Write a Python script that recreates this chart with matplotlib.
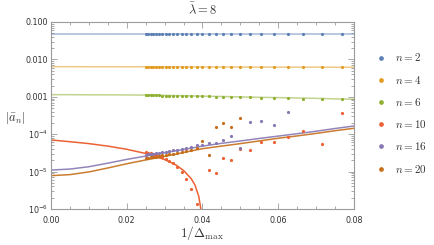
import numpy as np
import matplotlib
matplotlib.use("Agg")
import matplotlib.pyplot as plt
from matplotlib.ticker import FixedLocator, NullFormatter, LogLocator
from matplotlib.lines import Line2D

plt.rcParams['mathtext.fontset'] = 'cm'
plt.rcParams['font.family'] = ['DejaVu Sans']

# ---------------- data ----------------
delta_max = [40, 39, 38, 37, 36, 35, 34, 33, 32, 31, 30, 29, 28, 27,
             26, 25, 24, 23, 22, 21, 20, 19, 18, 17, 16, 15, 14, 13]

a2 = [0.0468] * 28
a4 = [0.0063, 0.0063, 0.0063, 0.0063, 0.0063, 0.0063, 0.0063, 0.0063,
      0.0063, 0.0063, 0.0063, 0.0063, 0.0063, 0.0063, 0.0063, 0.0063,
      0.0063, 0.0063, 0.0063, 0.0063, 0.0063, 0.0063, 0.0062, 0.0062,
      0.0062, 0.0062, 0.0062, 0.0062]
a6 = [0.00110, 0.00110, 0.00110, 0.00109, 0.00109, 0.00109, 0.00108,
      0.00108, 0.00107, 0.00107, 0.00106, 0.00106, 0.00105, 0.00104,
      0.00104, 0.00103, 0.00102, 0.00101, 0.00100, 0.00099, 0.00098,
      0.00096, 0.00095, 0.00093, 0.00092, 0.00090, 0.00089, 0.00087]
# n = 10 (None = off scale)
a10 = [3.4e-5, 3.2e-5, 3.1e-5, 2.9e-5, 2.8e-5, 2.6e-5, 2.4e-5, 2.2e-5,
       1.9e-5, 1.7e-5, 1.3e-5, 1.0e-5, 6.3e-6, 3.5e-6, 1.4e-6, None,
       1.1e-5, 9.0e-6, 2.35e-5, 2.0e-5, 3.9e-5, 3.7e-5, 6.2e-5, 6.2e-5,
       8.4e-5, 1.22e-4, 5.4e-5, 3.6e-4]
# n = 16 (Delta_max = 40 ... 16)
a16 = [2.8e-5, 2.9e-5, 3.0e-5, 3.0e-5, 3.1e-5, 3.2e-5, 3.3e-5, 3.4e-5,
       3.5e-5, 3.7e-5, 3.8e-5, 4.0e-5, 4.3e-5, 4.6e-5, 5.0e-5, 5.05e-5,
       5.9e-5, 5.95e-5, 6.9e-5, 9.1e-5, 4.3e-5, 2.1e-4, 2.3e-4, 1.73e-4,
       3.9e-4]
# n = 20 (Delta_max = 40 ... 20)
a20 = [2.3e-5, 2.35e-5, 2.4e-5, 2.45e-5, 2.5e-5, 2.6e-5, 2.7e-5, 2.8e-5,
       2.9e-5, 3.0e-5, 3.1e-5, 3.3e-5, 3.5e-5, 3.8e-5, 4.2e-5, 6.6e-5,
       2.8e-5, 1.58e-4, 2.0e-4, 1.53e-4, 2.76e-4]

# fitted curves
fit_x = [0.0, 0.005, 0.01, 0.015, 0.02, 0.025, 0.03, 0.035, 0.04, 0.045,
         0.05, 0.055, 0.06, 0.065, 0.07, 0.075, 0.08]
fit2 = [0.0469] * 17
fit4 = [0.00638, 0.00638, 0.00637, 0.00636, 0.00635, 0.00634, 0.00632,
        0.00630, 0.00629, 0.00627, 0.00625, 0.00623, 0.00622, 0.00620,
        0.00619, 0.00617, 0.00616]
fit6 = [0.00114, 0.00114, 0.00113, 0.00113, 0.00112, 0.00111, 0.00109,
        0.00107, 0.00104, 0.00102, 0.00099, 0.00097, 0.00095, 0.00093,
        0.00091, 0.00088, 0.00086]
fit16 = [1.1e-5, 1.17e-5, 1.35e-5, 1.68e-5, 2.12e-5, 2.6e-5, 3.2e-5,
         3.9e-5, 4.8e-5, 5.7e-5, 6.6e-5, 7.7e-5, 8.9e-5, 1.03e-4,
         1.2e-4, 1.42e-4, 1.66e-4]
fit20 = [7.8e-6, 8.3e-6, 9.8e-6, 1.25e-5, 1.62e-5, 2.05e-5, 2.55e-5,
         3.25e-5, 4.1e-5, 4.8e-5, 5.6e-5, 6.6e-5, 7.8e-5, 9.0e-5,
         1.05e-4, 1.24e-4, 1.44e-4]
fit10_x = [0.0, 0.005, 0.01, 0.015, 0.02, 0.025, 0.03, 0.033, 0.035,
           0.037, 0.038, 0.039, 0.0395, 0.0399]
fit10 = [7.0e-5, 6.3e-5, 5.6e-5, 4.8e-5, 3.95e-5, 3.05e-5, 2.1e-5,
         1.5e-5, 1.07e-5, 6.5e-6, 4.4e-6, 2.2e-6, 1.1e-6, 2.0e-7]

labels = ["$n = 2$", "$n = 4$", "$n = 6$", "$n = 10$", "$n = 16$", "$n = 20$"]
colors = ["#5E81B5", "#E19C24", "#8FB032", "#EB6235", "#8778B3", "#C56E1A"]

# ---------------- plot ----------------
fig = plt.figure(figsize=(4.35, 2.45), dpi=100)
ax = fig.add_axes([51/435, 1-209/245, (354-51)/435, (209-22)/245])
ax.set_yscale('log')

xs = [1.0/d for d in delta_max]

def pts(vals):
    xx, yy = [], []
    for x, v in zip(xs, vals):
        if v is not None:
            xx.append(x); yy.append(v)
    return xx, yy

series = [a2, a4, a6, a10, a16, a20]
fits = [(fit_x, fit2, 0.55), (fit_x, fit4, 0.55), (fit_x, fit6, 0.55),
        (fit10_x, fit10, 1.0), (fit_x, fit16, 0.9), (fit_x, fit20, 0.9)]

for (fx, fy, al), c in zip(fits, colors):
    ax.plot(fx, fy, color=c, lw=1.1, alpha=al, zorder=2)
for vals, c in zip(series, colors):
    xx, yy = pts(vals)
    ax.plot(xx, yy, 'o', color=c, ms=2.3, mew=0, zorder=3)

ax.set_xlim(0, 0.08)
ax.set_ylim(1e-6, 0.1)

ax.xaxis.set_major_locator(FixedLocator([0, 0.02, 0.04, 0.06, 0.08]))
ax.xaxis.set_minor_locator(FixedLocator(np.arange(0, 0.0801, 0.005)))
ax.set_xticklabels(["0.00", "0.02", "0.04", "0.06", "0.08"])
ax.yaxis.set_major_locator(FixedLocator([1e-6, 1e-5, 1e-4, 1e-3, 1e-2, 1e-1]))
ax.yaxis.set_minor_locator(LogLocator(base=10, subs=np.arange(2, 10)))
ax.yaxis.set_minor_formatter(NullFormatter())
ax.set_yticklabels([r"$\mathregular{10^{-6}}$", r"$\mathregular{10^{-5}}$",
                    r"$\mathregular{10^{-4}}$", "0.001", "0.010", "0.100"])

fc = "#9a9a9a"
for s in ax.spines.values():
    s.set_color(fc)
    s.set_linewidth(0.8)
ax.tick_params(which='both', direction='in', top=True, right=True,
               color=fc, width=0.6, labelsize=5.8, labelcolor="#333333")
ax.tick_params(which='major', length=4)
ax.tick_params(axis='x', which='major', pad=5)
ax.tick_params(axis='y', which='major', pad=2)
ax.tick_params(which='minor', length=2)

ax.set_title(r"$\bar{\lambda} = 8$", fontsize=9, pad=6, color="#333333")
fig.text(202/435, 1-233/245, r"$1/\Delta_{\max}$", fontsize=9.5,
         ha='center', va='center', color="#333333")
fig.text(15/435, 1-118/245, r"$|\bar{a}_n|$", fontsize=9, ha='center',
         va='center', color="#333333")

handles = [Line2D([], [], ls='none', marker='o', color=c, ms=3.4, mew=0)
           for c in colors]
leg = fig.legend(handles, labels, loc='upper left',
                 bbox_to_anchor=(372/435, 1-47/245), frameon=False,
                 fontsize=8, handlelength=0.8, handletextpad=0.9,
                 labelspacing=0.92, borderaxespad=0)
for t in leg.get_texts():
    t.set_color("#333333")

fig.savefig("out.png", dpi=100)
